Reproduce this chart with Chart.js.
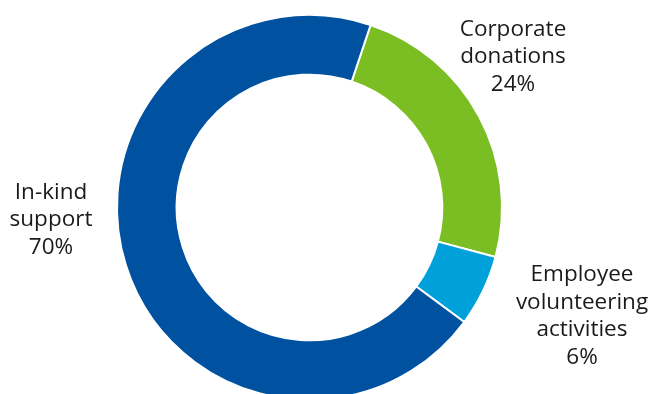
<!DOCTYPE html>
<html>
<head>
<meta charset="utf-8">
<script src="https://cdn.jsdelivr.net/npm/chart.js@4"></script>
<style>
  html, body { margin: 0; padding: 0; background: #fff; overflow: hidden; }
  #wrap { width: 652px; height: 394px; overflow: hidden; }
</style>
</head>
<body>
<div id="wrap"><canvas id="ringChart" width="652" height="420"></canvas></div>
<script>
// Share of community contribution by type (%)
const categories = ['Corporate donations', 'Employee volunteering activities', 'In-kind support'];
const shares = [24, 6, 70];
const sliceColors = ['#7abe23', '#00a0db', '#0052a1'];

// Wrapped label lines drawn beside each slice
const labelLines = [
    ['Corporate', 'donations'],
    ['Employee', 'volunteering', 'activities'],
    ['In-kind', 'support']
];
// Centre of each label block on the canvas
const labelSpots = [
    { x: 513, y: 57 },
    { x: 582, y: 316 },
    { x: 51, y: 220 }
];

// Draws the multi-line category name plus the percentage next to each slice
const sliceLabels = {
    id: 'sliceLabels',
    afterDatasetsDraw(chart) {
        const ctx = chart.ctx;
        const lineH = 27.5;
        ctx.save();
        ctx.font = '22.5px "Open Sans", sans-serif';
        ctx.fillStyle = '#1a1a1a';
        ctx.textAlign = 'center';
        ctx.textBaseline = 'middle';
        shares.forEach((v, i) => {
            const lines = labelLines[i].concat([v + '%']);
            const spot = labelSpots[i];
            const top = spot.y - (lines.length - 1) * lineH / 2;
            lines.forEach((txt, k) => ctx.fillText(txt, spot.x, top + k * lineH));
        });
        ctx.restore();
    }
};

const ctx = document.getElementById('ringChart').getContext('2d');
new Chart(ctx, {
    type: 'doughnut',
    data: {
        labels: categories,
        datasets: [{
            data: shares,
            backgroundColor: sliceColors,
            borderColor: '#ffffff',
            borderWidth: 2
        }]
    },
    options: {
        responsive: false,
        animation: false,
        rotation: 18.5,
        cutout: '69%',
        layout: { padding: { left: 116, top: 14, right: 149, bottom: 19 } },
        plugins: {
            legend: { display: false },
            tooltip: { enabled: false }
        }
    },
    plugins: [sliceLabels]
});
</script>
</body>
</html>
